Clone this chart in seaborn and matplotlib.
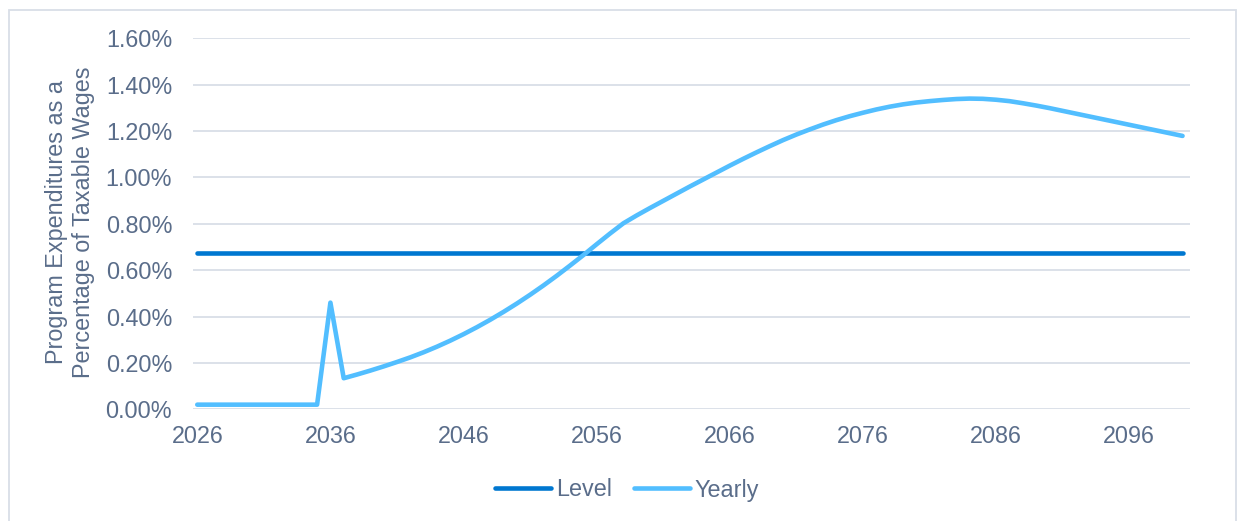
import matplotlib
matplotlib.use("Agg")
import matplotlib.pyplot as plt
import matplotlib.ticker as mticker
from matplotlib.patches import Rectangle
import pandas as pd
import seaborn as sns

# Projection years and program costs (% of taxable wages)
years = list(range(2026, 2101))
level_rate = 0.675
yearly_rate = [
    0.02, 0.02, 0.02, 0.02, 0.02, 0.02, 0.02, 0.02, 0.02, 0.02,            # 2026-2035
    0.46, 0.134, 0.150, 0.167, 0.185, 0.204, 0.224, 0.246, 0.270, 0.296,   # 2036-2045
    0.324, 0.354, 0.386, 0.420, 0.456, 0.494, 0.534, 0.576, 0.620, 0.665,  # 2046-2055
    0.712, 0.758, 0.802, 0.836, 0.868, 0.899, 0.930, 0.961, 0.991, 1.021,  # 2056-2065
    1.051, 1.080, 1.108, 1.135, 1.161, 1.185, 1.207, 1.228, 1.247, 1.264,  # 2066-2075
    1.279, 1.293, 1.305, 1.315, 1.323, 1.329, 1.334, 1.338, 1.340, 1.339,  # 2076-2085
    1.335, 1.329, 1.320, 1.310, 1.299, 1.287, 1.275, 1.263, 1.251, 1.239,  # 2086-2095
    1.227, 1.215, 1.203, 1.191, 1.179,                                     # 2096-2100
]
series_names = ["Level", "Yearly"]
x_ticks = list(range(2026, 2101, 10))
y_ticks = [0.0, 0.2, 0.4, 0.6, 0.8, 1.0, 1.2, 1.4, 1.6]
y_title = "Program Expenditures as a\nPercentage of Taxable Wages"

df = pd.DataFrame({
    "Year": years * 2,
    "Rate": [level_rate] * len(years) + yearly_rate,
    "Series": [series_names[0]] * len(years) + [series_names[1]] * len(years),
})

TEXT = "#5A6D8A"
GRID = "#D9DEE7"
palette = {"Level": "#0077D0", "Yearly": "#52BEFF"}

sns.set_theme(style="white")
plt.rcParams["font.family"] = ["Liberation Sans", "DejaVu Sans"]

fig = plt.figure(figsize=(12.38, 5.21), dpi=100)
ax = fig.add_axes([193 / 1238, 111.7 / 521, (1190 - 193) / 1238, (409.3 - 38.3) / 521])

sns.lineplot(data=df, x="Year", y="Rate", hue="Series", palette=palette,
             linewidth=3.3, ax=ax, legend=False, sort=False)
for ln in ax.get_lines():
    ln.set_solid_capstyle("round")
    ln.set_solid_joinstyle("round")

ax.set_xlim(2025.68, 2100.56)
ax.set_ylim(0, 1.6)
ax.set_xticks(x_ticks)
ax.set_yticks(y_ticks)
ax.yaxis.set_major_formatter(mticker.FuncFormatter(lambda v, p: f"{v:.2f}%"))
ax.grid(axis="y", color=GRID, linewidth=1.3)
ax.grid(axis="x", visible=False)
ax.set_axisbelow(True)
for s in ax.spines.values():
    s.set_visible(False)
ax.tick_params(axis="both", length=0, labelsize=16.8, labelcolor=TEXT)
ax.tick_params(axis="y", pad=15)
ax.tick_params(axis="x", pad=11)
ax.set_xlabel("")
ax.set_ylabel("")

fig.text(70 / 1238, 1 - 222 / 521, y_title, rotation=90, ha="center", va="center",
         multialignment="center", fontsize=16.8, color=TEXT, linespacing=1.25)

handles = [plt.Line2D([], [], color=palette[n], linewidth=3.3, solid_capstyle="round")
           for n in series_names]
leg = fig.legend(handles, series_names, loc="center", bbox_to_anchor=(627 / 1238, 1 - 490 / 521),
                 ncol=2, frameon=False, fontsize=16.8, handlelength=2.4,
                 handletextpad=0.2, columnspacing=0.95)
for t in leg.get_texts():
    t.set_color(TEXT)

# Outer chart frame
fig.patches.append(Rectangle((9 / 1238, -0.05), (1236 - 9) / 1238, 1.05 - 10 / 521,
                             transform=fig.transFigure, fill=False,
                             edgecolor=GRID, linewidth=1.3))

fig.savefig("out.png", dpi=100)
